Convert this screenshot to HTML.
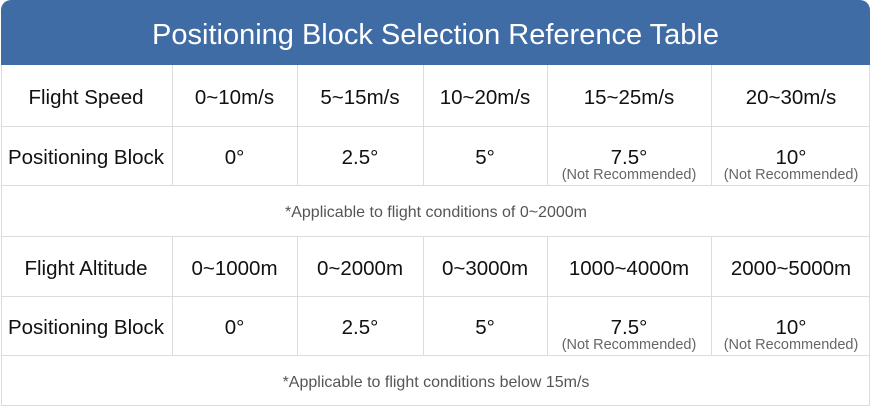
<!DOCTYPE html>
<html><head><meta charset="utf-8"><style>
body{margin:0;width:872px;height:406px;background:#fff;font-family:"Liberation Sans",sans-serif;position:relative;overflow:hidden}
.hd{position:absolute;left:1px;top:0;width:869px;height:65px;background:#3f6ca5;border-radius:10px 10px 0 0;color:#fff;font-size:29px;text-align:center;line-height:70px}
.h{position:absolute;height:1px;background:#dcdcdc;left:1px;width:869px}
.v{position:absolute;width:1px;background:#dcdcdc}
.c{position:absolute;text-align:center;font-size:20.5px;color:#111}
.n{position:absolute;text-align:center;font-size:14.5px;color:#666}
.s{position:absolute;left:0;width:872px;text-align:center;font-size:16px;color:#555}
</style></head><body>
<div class="hd">Positioning Block Selection Reference Table</div>
<div class="v" style="left:1px;top:65px;height:341px"></div>
<div class="v" style="left:869px;top:65px;height:341px"></div>
<div class="h" style="top:126px"></div><div class="h" style="top:185px"></div><div class="h" style="top:236px"></div><div class="h" style="top:296px"></div><div class="h" style="top:355px"></div><div class="h" style="top:405px"></div>
<div class="v" style="left:172px;top:65px;height:120px"></div><div class="v" style="left:297px;top:65px;height:120px"></div><div class="v" style="left:423px;top:65px;height:120px"></div><div class="v" style="left:547px;top:65px;height:120px"></div><div class="v" style="left:711px;top:65px;height:120px"></div>
<div class="v" style="left:172px;top:236px;height:119px"></div><div class="v" style="left:297px;top:236px;height:119px"></div><div class="v" style="left:423px;top:236px;height:119px"></div><div class="v" style="left:547px;top:236px;height:119px"></div><div class="v" style="left:711px;top:236px;height:119px"></div>

<div class="c" style="left:0;width:172px;top:86px">Flight Speed</div>
<div class="c" style="left:172px;width:125px;top:86px">0~10m/s</div>
<div class="c" style="left:297px;width:126px;top:86px">5~15m/s</div>
<div class="c" style="left:423px;width:124px;top:86px">10~20m/s</div>
<div class="c" style="left:547px;width:164px;top:86px">15~25m/s</div>
<div class="c" style="left:711px;width:160px;top:86px">20~30m/s</div>

<div class="c" style="left:0;width:172px;top:146px">Positioning Block</div>
<div class="c" style="left:172px;width:125px;top:146px">0°</div>
<div class="c" style="left:297px;width:126px;top:146px">2.5°</div>
<div class="c" style="left:423px;width:124px;top:146px">5°</div>
<div class="c" style="left:547px;width:164px;top:146px">7.5°</div>
<div class="c" style="left:711px;width:160px;top:146px">10°</div>
<div class="n" style="left:547px;width:164px;top:167px">(Not Recommended)</div>
<div class="n" style="left:711px;width:160px;top:167px">(Not Recommended)</div>
<div class="s" style="top:204px">*Applicable to flight conditions of 0~2000m</div>

<div class="c" style="left:0;width:172px;top:257px">Flight Altitude</div>
<div class="c" style="left:172px;width:125px;top:257px">0~1000m</div>
<div class="c" style="left:297px;width:126px;top:257px">0~2000m</div>
<div class="c" style="left:423px;width:124px;top:257px">0~3000m</div>
<div class="c" style="left:547px;width:164px;top:257px">1000~4000m</div>
<div class="c" style="left:711px;width:160px;top:257px">2000~5000m</div>

<div class="c" style="left:0;width:172px;top:316px">Positioning Block</div>
<div class="c" style="left:172px;width:125px;top:316px">0°</div>
<div class="c" style="left:297px;width:126px;top:316px">2.5°</div>
<div class="c" style="left:423px;width:124px;top:316px">5°</div>
<div class="c" style="left:547px;width:164px;top:316px">7.5°</div>
<div class="c" style="left:711px;width:160px;top:316px">10°</div>
<div class="n" style="left:547px;width:164px;top:337px">(Not Recommended)</div>
<div class="n" style="left:711px;width:160px;top:337px">(Not Recommended)</div>
<div class="s" style="top:374px">*Applicable to flight conditions below 15m/s</div>
</body></html>
